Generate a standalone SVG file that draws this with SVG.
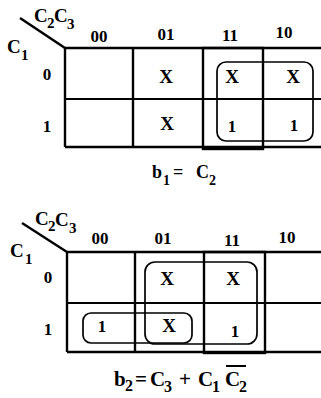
<svg xmlns="http://www.w3.org/2000/svg" width="321" height="398" viewBox="0 0 321 398">
<style>
text{font-family:"Liberation Serif","Times New Roman",serif;font-weight:bold;fill:#000}
.v{font-size:19px}
.s{font-size:15px}
.h{font-size:17px;text-anchor:middle}
.r{font-size:17px;text-anchor:middle}
.c{font-size:19px;text-anchor:middle}
.e{font-size:21px}
.es{font-size:16px}
.g{fill:none;stroke:#000;stroke-width:2.4}
.m{fill:none;stroke:#000;stroke-width:1.8}
.loop{fill:none;stroke:#000;stroke-width:1.7}
</style>
<rect width="321" height="398" fill="#fff"/>

<g id="map1">
  <g id="map1-grid">
    <line class="g" x1="20" y1="18" x2="65" y2="48"/>
    <line class="g" x1="65" y1="48" x2="321" y2="48"/>
    <line class="m" x1="65" y1="99" x2="321" y2="99"/>
    <line class="g" x1="65" y1="147" x2="321" y2="147"/>
    <line class="g" x1="65" y1="48" x2="65" y2="147"/>
    <line class="g" x1="133" y1="48" x2="133" y2="147"/>
    <rect class="g" x="203" y="48" width="60" height="101"/>
  </g>
  <g id="map1-labels">
    <text class="v" x="34" y="22">C</text><text class="s" x="47" y="28">2</text>
    <text class="v" x="54" y="22">C</text><text class="s" x="67" y="29">3</text>
    <text class="v" x="7" y="53">C</text><text class="s" x="21" y="60">1</text>
    <text class="h" x="99" y="42">00</text>
    <text class="h" x="166" y="40">01</text>
    <text class="h" x="230" y="41">11</text>
    <text class="h" x="284" y="38">10</text>
    <text class="r" x="47" y="80">0</text>
    <text class="r" x="47" y="132">1</text>
  </g>
  <g id="map1-cells">
    <text class="c" x="166" y="83">X</text>
    <text class="c" x="167" y="130">X</text>
    <text class="c" x="232" y="83">X</text>
    <text class="c" x="293" y="83">X</text>
    <text class="r" x="232" y="132">1</text>
    <text class="r" x="294" y="131">1</text>
  </g>
  <g id="map1-loops">
    <rect class="loop" x="217" y="62" width="96" height="79" rx="9"/>
  </g>
  <g id="map1-eq">
    <text x="152" y="178" font-size="18">b</text><text x="163" y="185" font-size="14">1</text>
    <text x="173" y="178" font-size="18">=</text>
    <text x="196" y="178" font-size="18">C</text><text x="209" y="185" font-size="14">2</text>
  </g>
</g>

<g id="map2">
  <g id="map2-grid">
    <line class="g" x1="22" y1="223" x2="67" y2="252"/>
    <line class="g" x1="67" y1="252" x2="321" y2="252"/>
    <line class="m" x1="67" y1="303" x2="321" y2="303"/>
    <line class="g" x1="67" y1="352" x2="321" y2="352"/>
    <line class="g" x1="67" y1="252" x2="67" y2="352"/>
    <line class="g" x1="135" y1="252" x2="135" y2="352"/>
    <rect class="g" x="204" y="252" width="61" height="101"/>
  </g>
  <g id="map2-labels">
    <text class="v" x="35" y="225">C</text><text class="s" x="48" y="231">2</text>
    <text class="v" x="55" y="226">C</text><text class="s" x="69" y="233">3</text>
    <text class="v" x="10" y="257">C</text><text class="s" x="25" y="264">1</text>
    <text class="h" x="100" y="244">00</text>
    <text class="h" x="163" y="244">01</text>
    <text class="h" x="232" y="246">11</text>
    <text class="h" x="287" y="243">10</text>
    <text class="r" x="48" y="283">0</text>
    <text class="r" x="48" y="335">1</text>
  </g>
  <g id="map2-cells">
    <text class="c" x="167" y="285">X</text>
    <text class="c" x="233" y="285">X</text>
    <text class="c" x="169" y="332">X</text>
    <text class="r" x="102" y="332">1</text>
    <text class="r" x="235" y="337">1</text>
  </g>
  <g id="map2-loops">
    <rect class="loop" x="145" y="262" width="112" height="82" rx="10"/>
    <rect class="loop" x="83" y="313" width="109" height="30" rx="8"/>
  </g>
  <g id="map2-eq">
    <text class="e" x="114" y="386">b</text><text class="es" x="125" y="391">2</text>
    <text class="e" x="135" y="386">=</text>
    <text class="e" x="150" y="386">C</text><text class="es" x="164" y="392">3</text>
    <text class="e" x="179" y="386">+</text>
    <text class="e" x="198" y="386">C</text><text class="es" x="212" y="392">1</text>
    <text class="e" x="225" y="386">C</text><text class="es" x="239" y="392">2</text>
    <line x1="226" y1="366" x2="246" y2="366" stroke="#000" stroke-width="2"/>
  </g>
</g>
</svg>
